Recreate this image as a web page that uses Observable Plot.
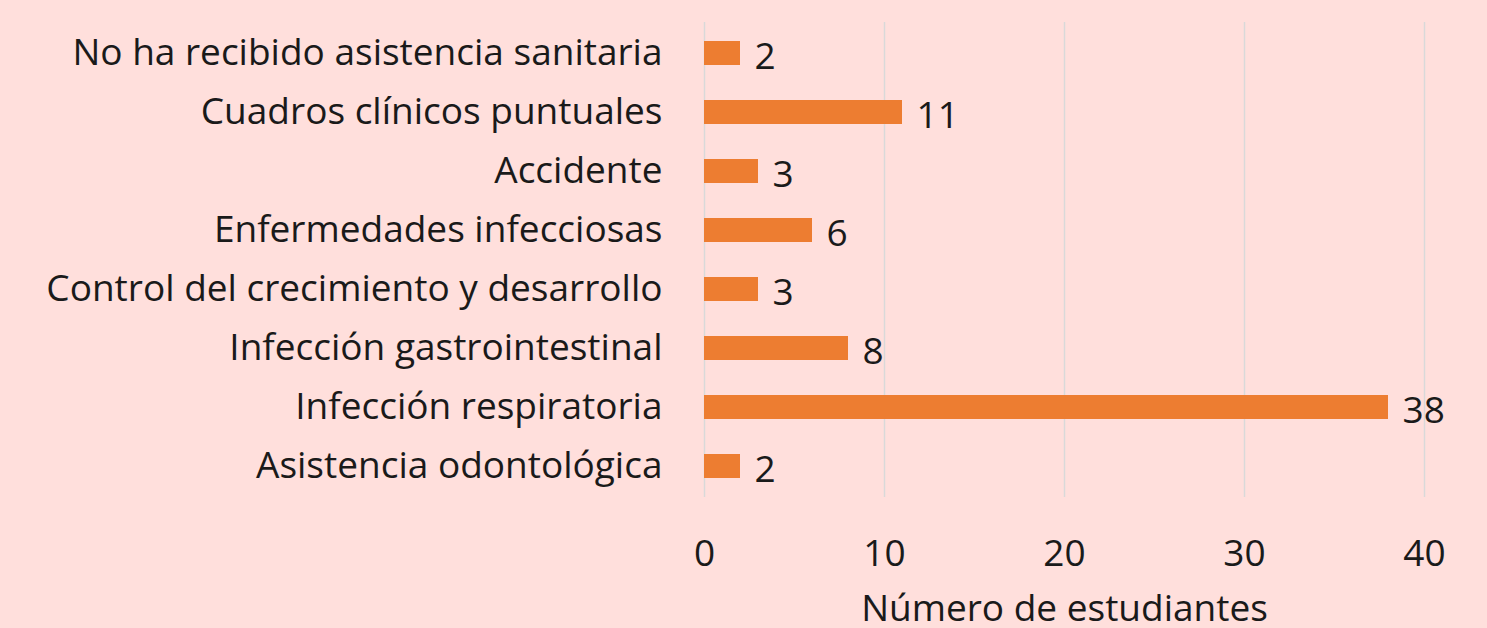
<!DOCTYPE html>
<html><head><meta charset="utf-8">
<script src="https://cdn.jsdelivr.net/npm/d3@7"></script>
<script src="https://cdn.jsdelivr.net/npm/@observablehq/plot@0.6"></script>
<style>
html,body{margin:0;padding:0;background:#ffdfdc;}
svg{display:block;}
</style></head>
<body><div id="chart"></div>
<script>
const categories = [
  "No ha recibido asistencia sanitaria",
  "Cuadros clínicos puntuales",
  "Accidente",
  "Enfermedades infecciosas",
  "Control del crecimiento y desarrollo",
  "Infección gastrointestinal",
  "Infección respiratoria",
  "Asistencia odontológica"
];
const values = [2, 11, 3, 6, 3, 8, 38, 2];
const xTicks = [0, 10, 20, 30, 40];
const xLabel = "Número de estudiantes";

const data = categories.map((c, i) => ({category: c, value: values[i]}));
const fontSize = 37;

const chart = Plot.plot({
  width: 1487,
  height: 628,
  marginLeft: 704,
  marginRight: 63,
  marginTop: 22,
  marginBottom: 131,
  style: {background: "#ffdfdc", fontFamily: "'Open Sans', sans-serif", fontSize: fontSize + "px", color: "#1a1a1a"},
  x: {domain: [0, 40], ticks: xTicks},
  y: {domain: categories, paddingInner: 0.6, paddingOuter: 0.3},
  marks: [
    Plot.gridX(xTicks, {stroke: "#d9d9d9", strokeOpacity: 1, strokeWidth: 1.5}),
    Plot.barX(data, {x: "value", y: "category", fill: "#ed7d31"}),
    Plot.text(data, {x: "value", y: "category", text: d => String(d.value), textAnchor: "start", dx: 14, dy: 4, fontSize: fontSize, fill: "#1a1a1a"}),
    Plot.axisY({tickSize: 0, tickPadding: 42, label: null, fontSize: fontSize}),
    Plot.axisX(xTicks, {tickSize: 0, tickPadding: 42, label: null, fontSize: fontSize}),
    Plot.text([xLabel], {frameAnchor: "bottom", dy: 123, fontSize: fontSize, fill: "#1a1a1a"})
  ]
});
document.getElementById("chart").appendChild(chart);
</script></body></html>
